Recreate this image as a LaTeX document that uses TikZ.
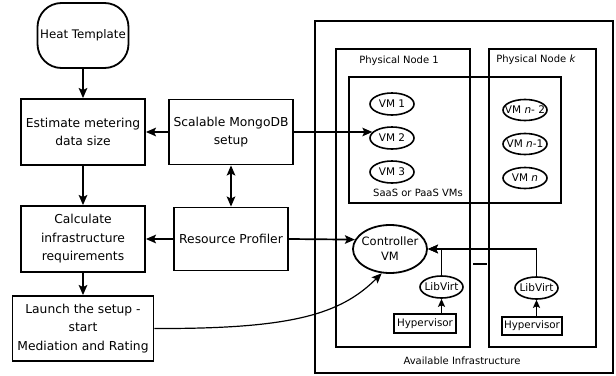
\documentclass[tikz,border=0pt]{standalone}
\usepackage{fontspec}
\setmainfont{DejaVu Sans}
\usetikzlibrary{shapes.geometric,arrows.meta}
\begin{document}
\begin{tikzpicture}[x=1pt,y=-1pt,
  box/.style={draw,line width=1.8pt,inner sep=0pt,align=center,font=\fontsize{12.3}{18.5}\selectfont},
  cont/.style={draw,line width=1.6pt,inner sep=0pt},
  vm/.style={draw,ellipse,line width=1.6pt,inner sep=0pt,minimum width=44pt,minimum height=22pt},
  vmt/.style={font=\fontsize{10.5}{12}\selectfont},
  small/.style={font=\fontsize{10}{12}\selectfont},
  hyp/.style={draw,line width=1.9pt,inner sep=0pt,font=\fontsize{10.3}{12}\selectfont},
  tip/.tip={Stealth[length=10pt,width=8.5pt,inset=2pt]},
  stip/.tip={Stealth[length=8pt,width=7pt,inset=1.5pt]},
  arr/.style={line width=1.7pt,-tip},
  sarr/.style={line width=1.7pt,-stip},
]
\useasboundingbox (0,0) rectangle (616,375);

% containers
\node[cont,minimum width=298pt,minimum height=352pt] (infra) at (464,197) {};
\node[cont,minimum width=134pt,minimum height=298pt] (pn1) at (403,198) {};
\node[cont,minimum width=107pt,minimum height=298pt] (pnk) at (542.5,198) {};
\node[cont,minimum width=212pt,minimum height=126pt] (saas) at (455,140) {};
\node[small] (pn1t) at (399,61) {Physical Node 1};
\node[small] (pnkt) at (536,60) {Physical Node \textit{k}};
\node[small] (saast) at (418,193) {SaaS or PaaS VMs};
\node[small] (infrat) at (462,361) {Available Infrastructure};
\draw[line width=1.8pt] (473,264) -- (487,264);

% left flow
\node[box,rounded corners=24pt,minimum width=91pt,minimum height=65pt,font=\fontsize{11.8}{14}\selectfont] (heat) at (83,35.5) {Heat Template};
\node[box,minimum width=124pt,minimum height=66pt] (est) at (83,132) {Estimate metering\\data size};
\node[box,minimum width=124pt,minimum height=65pt] (mongo) at (231,132) {Scalable MongoDB\\setup};
\node[box,minimum width=124pt,minimum height=66pt] (calc) at (83,239) {Calculate\\infrastructure\\requirements};
\node[box,minimum width=114pt,minimum height=63pt] (rp) at (231,239) {Resource Profiler};
\node[box,minimum width=141pt,minimum height=65pt] (launch) at (83,328.5) {Launch the setup -\\start\\Mediation and Rating};

% VMs
\node[vm,label={[vmt]center:VM 1}] (vm1) at (392,104) {};
\node[vm,label={[vmt]center:VM 2}] (vm2) at (392,138) {};
\node[vm,label={[vmt]center:VM 3}] (vm3) at (392,172) {};
\node[vm,minimum height=21pt,label={[vmt]center:VM \textit{n}- 2}] (vm4) at (525,110) {};
\node[vm,minimum height=21pt,label={[vmt]center:VM \textit{n}-1}] (vm5) at (525,144) {};
\node[vm,minimum height=21pt,label={[vmt]center:VM \textit{n}}] (vm6) at (525,178) {};

\node[draw,ellipse,line width=1.8pt,inner sep=0pt,minimum width=74pt,minimum height=48pt,
  label={[align=center,font=\fontsize{11.5}{15}\selectfont]center:Controller\\VM}] (ctrl) at (390,249) {};
\node[vm,minimum width=43pt,label={[vmt]center:LibVirt}] (lv1) at (441.5,287) {};
\node[vm,minimum width=43pt,label={[vmt]center:LibVirt}] (lv2) at (536.5,288) {};
\node[hyp,minimum width=62pt,minimum height=19pt] (hv1) at (425,323.5) {Hypervisor};
\node[hyp,minimum width=60pt,minimum height=18pt] (hv2) at (532,326) {Hypervisor};

% connectors
\draw[arr] (heat) -- (est);
\draw[arr] (est) -- (calc);
\draw[arr] (calc) -- (launch);
\draw[arr] (mongo) -- (est);
\draw[line width=1.7pt,tip-tip] (mongo) -- (rp);
\draw[arr] (rp) -- (calc);
\draw[arr] (mongo.east) -- (vm2.163);
\draw[arr] (rp.east) -- (ctrl.165);
\draw[line width=1.2pt,-tip] (launch.east) .. controls (290,329) and (340,315) .. (ctrl.-109);
\draw[arr] (lv1.north) |- (ctrl.east);
\draw[arr] (lv2.north) |- (ctrl.east);
\draw[sarr] (hv1.north -| lv1.south) -- (lv1.south);
\draw[sarr] (hv2.north -| lv2.south) -- (lv2.south);
\end{tikzpicture}
\end{document}
